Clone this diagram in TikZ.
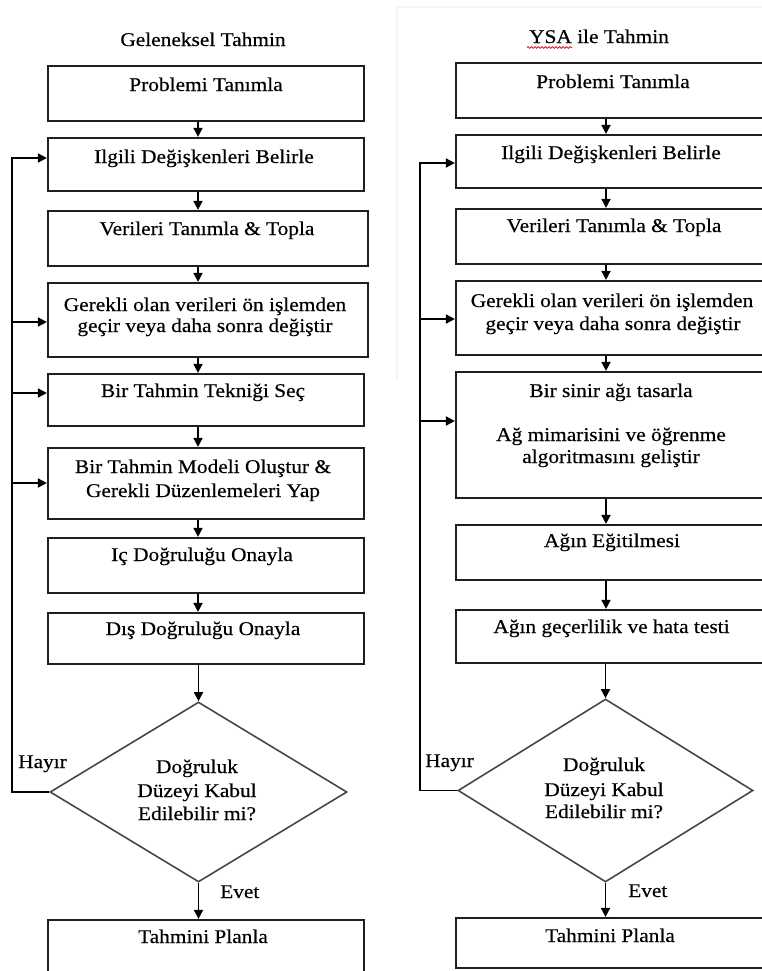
\documentclass[tikz,border=0pt]{standalone}
\usepackage{fontspec}
\setmainfont[FakeStretch=1.1,FakeBold=0.4]{Liberation Serif}
\usetikzlibrary{arrows.meta,shapes.geometric,decorations.pathmorphing}
\newcommand{\fsz}{\fontsize{19.5}{22}\selectfont}
\newcommand{\bx}[5]{\node[box, minimum width={(#4-#2)*1bp}, minimum height={(#5-#3)*1bp}] (#1) at ({(#2+#4)/2},{(#3+#5)/2}) {};}
\begin{document}
\begin{tikzpicture}[x=1bp,y=-1bp,
  box/.style={draw=black!88, line width=2.2bp, inner sep=0pt, rectangle},
  dia/.style={draw=black!72, line width=1.6bp, shape=diamond, inner sep=0pt},
  lbl/.style={anchor=base, inner sep=0pt, font=\fsz},
  lbll/.style={anchor=base west, inner sep=0pt, font=\fsz},
  arr/.style={line width=1.7bp, -{Triangle[length=9bp,width=9bp]}},
  ln/.style={line width=1.7bp}
]
\useasboundingbox (0,0) rectangle (762,971);
\clip (0,0) rectangle (762,971);
\fill[white] (0,0) rectangle (762,971);
% faint frame on right half
\draw[black!4, line width=1.5bp] (397,380) -- (397,7) -- (770,7);

% ---------- Left column ----------
\node[lbl] (lt) at (203,46) {Geleneksel Tahmin};
\bx{L1}{48}{66}{364}{121}
\bx{L2}{48}{138}{364}{191}
\bx{L3}{48}{211}{368}{266}
\bx{L4}{48}{283}{368}{357}
\bx{L5}{48}{374}{364}{426}
\bx{L6}{48}{448}{364}{519}
\bx{L7}{48}{538}{364}{593}
\bx{L8}{48}{613}{364}{664}
\bx{LF}{48}{920}{364}{985}
\node[dia, minimum width=297bp, minimum height=180bp] (LD) at (198.5,792) {};

\node[lbl] (l1t) at (206,91) {Problemi Tanımla};
\node[lbl] (l2t) at (204,163) {Ilgili Değişkenleri Belirle};
\node[lbl] (l3t) at (207,235) {Verileri Tanımla \& Topla};
\node[lbl] (l4a) at (205,311) {Gerekli olan verileri ön işlemden};
\node[lbl] (l4b) at (205,332) {geçir veya daha sonra değiştir};
\node[lbl] (l5t) at (203,397) {Bir Tahmin Tekniği Seç};
\node[lbl] (l6a) at (203,473) {Bir Tahmin Modeli Oluştur \&};
\node[lbl] (l6b) at (203,497) {Gerekli Düzenlemeleri Yap};
\node[lbl] (l7t) at (202,561) {Iç Doğruluğu Onayla};
\node[lbl] (l8t) at (203,635) {Dış Doğruluğu Onayla};
\node[lbl] (lda) at (197,773) {Doğruluk};
\node[lbl] (ldb) at (197,797) {Düzeyi Kabul};
\node[lbl] (ldc) at (197,820) {Edilebilir mi?};
\node[lbll] (lh) at (18,768) {Hayır};
\node[lbll] (le) at (220,898) {Evet};
\node[lbl] (lft) at (203,943) {Tahmini Planla};

\coordinate (lax) at (198,0);
\draw[arr] (L1.south -| lax) -- (L2.north -| lax);
\draw[arr] (L2.south -| lax) -- (L3.north -| lax);
\draw[arr] (L3.south -| lax) -- (L4.north -| lax);
\draw[arr] (L4.south -| lax) -- (L5.north -| lax);
\draw[arr] (L5.south -| lax) -- (L6.north -| lax);
\draw[arr] (L6.south -| lax) -- (L7.north -| lax);
\draw[arr] (L7.south -| lax) -- (L8.north -| lax);
\draw[arr] (L8.south -| LD.north) -- (LD.north);
\draw[arr] (LD.south) -- (LF.north -| LD.south);

\coordinate (lf2) at (12,158);
\coordinate (lf4) at (12,322);
\coordinate (lf5) at (12,393);
\coordinate (lf6) at (12,483);
\draw[arr] (LD.west) -| (lf2) -- (lf2 -| L2.west);
\draw[arr] (lf4) -- (lf4 -| L4.west);
\draw[arr] (lf5) -- (lf5 -| L5.west);
\draw[arr] (lf6) -- (lf6 -| L6.west);

% ---------- Right column ----------
\node[lbl] (rt) at (599,43) {YSA ile Tahmin};
\coordinate (sq1) at (527,47.5);
\coordinate (sq2) at (572,47.5);
\draw[red!85!black, line width=0.7bp, decorate, decoration={snake, amplitude=0.9bp, segment length=3.5bp}] (sq1) -- (sq2);
\bx{R1}{456}{63}{768}{118}
\bx{R2}{456}{135}{768}{188}
\bx{R3}{456}{209}{768}{264}
\bx{R4}{456}{281}{768}{355}
\bx{R5}{456}{372}{768}{498}
\bx{R6}{456}{525}{768}{580}
\bx{R7}{456}{610}{768}{663}
\bx{RF}{456}{918}{768}{968}
\node[dia, minimum width=295bp, minimum height=183bp] (RD) at (605.5,790.5) {};

\node[lbl] (r1t) at (613,88) {Problemi Tanımla};
\node[lbl] (r2t) at (611,159) {Ilgili Değişkenleri Belirle};
\node[lbl] (r3t) at (614,232) {Verileri Tanımla \& Topla};
\node[lbl] (r4a) at (612,307) {Gerekli olan verileri ön işlemden};
\node[lbl] (r4b) at (613,330) {geçir veya daha sonra değiştir};
\node[lbl] (r5a) at (611,397) {Bir sinir ağı tasarla};
\node[lbl] (r5b) at (611,441) {Ağ mimarisini ve öğrenme};
\node[lbl] (r5c) at (611,463) {algoritmasını geliştir};
\node[lbl] (r6t) at (612,547) {Ağın Eğitilmesi};
\node[lbl] (r7t) at (611.5,633) {Ağın geçerlilik ve hata testi};
\node[lbl] (rda) at (604,771) {Doğruluk};
\node[lbl] (rdb) at (604,796) {Düzeyi Kabul};
\node[lbl] (rdc) at (604,818) {Edilebilir mi?};
\node[lbll] (rh) at (425,767) {Hayır};
\node[lbll] (re) at (628,897) {Evet};
\node[lbl] (rft) at (610,942) {Tahmini Planla};

\coordinate (rax) at (606,0);
\draw[arr] (R1.south -| rax) -- (R2.north -| rax);
\draw[arr] (R2.south -| rax) -- (R3.north -| rax);
\draw[arr] (R3.south -| rax) -- (R4.north -| rax);
\draw[arr] (R4.south -| rax) -- (R5.north -| rax);
\draw[arr] (R5.south -| rax) -- (R6.north -| rax);
\draw[arr] (R6.south -| rax) -- (R7.north -| rax);
\draw[arr] (R7.south -| RD.north) -- (RD.north);
\draw[arr] (RD.south) -- (RF.north -| RD.south);

\coordinate (rf2) at (420,163);
\coordinate (rf4) at (420,319);
\coordinate (rf5) at (420,421);
\draw[arr] (RD.west) -| (rf2) -- (rf2 -| R2.west);
\draw[arr] (rf4) -- (rf4 -| R4.west);
\draw[arr] (rf5) -- (rf5 -| R5.west);
\end{tikzpicture}
\end{document}
